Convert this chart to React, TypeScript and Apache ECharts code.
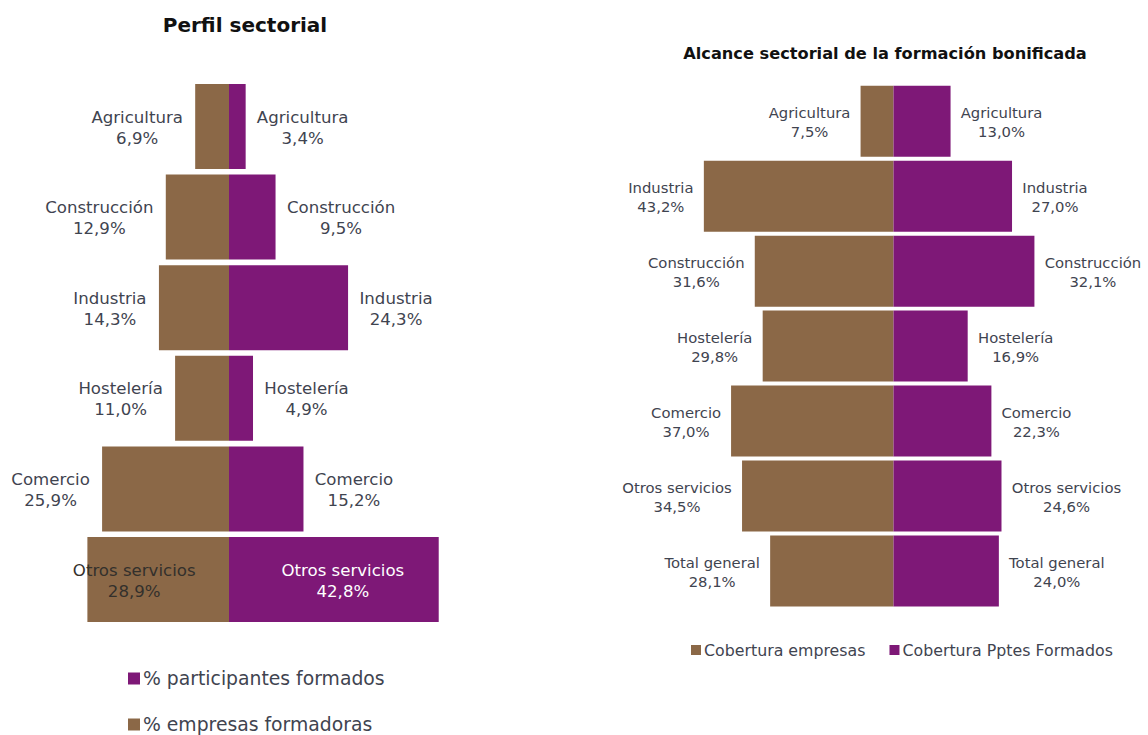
import React, { useEffect, useRef } from "react";
import * as echarts from "echarts";

const categoriesLeft = ["Agricultura", "Construcción", "Industria", "Hostelería", "Comercio", "Otros servicios"];
const empresasFormadoras = [6.9, 12.9, 14.3, 11.0, 25.9, 28.9];
const participantesFormados = [3.4, 9.5, 24.3, 4.9, 15.2, 42.8];

const categoriesRight = ["Agricultura", "Industria", "Construcción", "Hostelería", "Comercio", "Otros servicios", "Total general"];
const coberturaEmpresas = [7.5, 43.2, 31.6, 29.8, 37.0, 34.5, 28.1];
const coberturaPptes = [13.0, 27.0, 32.1, 16.9, 22.3, 24.6, 24.0];

const BROWN = "#8b6847";
const PURPLE = "#7e1877";
const LABEL = "#3f4450";
const FONT = "'DejaVu Sans', Verdana, sans-serif";

const fmt = (v: number) => v.toFixed(1).replace(".", ",") + "%";

let ctx: CanvasRenderingContext2D | null = null;
function measure(text: string, size: number) {
  if (!ctx) ctx = document.createElement("canvas").getContext("2d");
  if (!ctx) return text.length * size * 0.6;
  ctx.font = `${size}px "DejaVu Sans"`;
  return ctx.measureText(text).width;
}

function buildData(
  cats: string[],
  vals: number[],
  sign: number,
  size: number,
  lh: number,
  side: "left" | "right",
  dist: number,
  insideLast?: { offset: number; color: string }
) {
  return vals.map((v, i) => {
    const name = cats[i];
    const w = Math.ceil(Math.max(measure(name, size), measure(fmt(v), size))) + 2;
    const isInside = insideLast && i === vals.length - 1;
    return {
      value: sign * v,
      label: {
        show: true,
        position: isInside ? "inside" : side,
        distance: dist,
        offset: isInside ? [insideLast!.offset, 1] : [0, 1],
        formatter: `{a|${name}}\n{a|${fmt(v)}}`,
        rich: {
          a: {
            width: w,
            align: "center",
            fontSize: size,
            lineHeight: lh,
            fontFamily: FONT,
            color: isInside ? insideLast!.color : LABEL,
          },
        },
      },
    };
  });
}

export default function App() {
  const ref = useRef<HTMLDivElement>(null);
  useEffect(() => {
    document.body.style.margin = "0";
    if (!ref.current) return;
    const chart = echarts.init(ref.current, null, { renderer: "svg" });

    const L_MIN = -30, L_MAX = 45, L_PX = 4.9;
    const R_MIN = -45, R_MAX = 55, R_PX = 4.39;

    const legendLeftText = { fontFamily: FONT, fontSize: 18.8, color: LABEL, padding: [0, 0, 0, -2] };

    chart.setOption({
      animation: false,
      backgroundColor: "#ffffff",
      title: [
        {
          text: "Perfil sectorial",
          left: 240,
          top: 10,
          textAlign: "center",
          textStyle: { fontFamily: FONT, fontWeight: "bold", fontSize: 20, color: "#111111" },
        },
        {
          text: "Alcance sectorial de la formación bonificada",
          left: 880,
          top: 40,
          textAlign: "center",
          textStyle: { fontFamily: FONT, fontWeight: "bold", fontSize: 16.2, color: "#111111" },
        },
      ],
      legend: [
        {
          left: 123,
          top: 664,
          itemWidth: 12,
          itemHeight: 12,
          icon: "rect",
          data: ["% participantes formados"],
          textStyle: legendLeftText,
        },
        {
          left: 123,
          top: 710,
          itemWidth: 12,
          itemHeight: 12,
          icon: "rect",
          data: ["% empresas formadoras"],
          textStyle: legendLeftText,
        },
        {
          orient: "horizontal",
          left: 686,
          top: 637,
          itemWidth: 10,
          itemHeight: 10,
          itemGap: 24,
          icon: "rect",
          data: ["Cobertura empresas", "Cobertura Pptes Formados"],
          textStyle: { fontFamily: FONT, fontSize: 15.8, color: LABEL, padding: [0, 0, 0, -2] },
        },
      ],
      grid: [
        { left: 229 + L_MIN * L_PX, width: (L_MAX - L_MIN) * L_PX, top: 81.2, height: 543.6 },
        { left: 893.5 + R_MIN * R_PX, width: (R_MAX - R_MIN) * R_PX, top: 83.7, height: 524.8 },
      ],
      xAxis: [
        { type: "value", gridIndex: 0, min: L_MIN, max: L_MAX, show: false },
        { type: "value", gridIndex: 1, min: R_MIN, max: R_MAX, show: false },
      ],
      yAxis: [
        { type: "category", gridIndex: 0, data: categoriesLeft, inverse: true, show: false },
        { type: "category", gridIndex: 1, data: categoriesRight, inverse: true, show: false },
      ],
      series: [
        {
          name: "% empresas formadoras",
          type: "bar",
          xAxisIndex: 0,
          yAxisIndex: 0,
          barWidth: 85,
          barGap: "-100%",
          itemStyle: { color: BROWN },
          data: buildData(categoriesLeft, empresasFormadoras, -1, 16.6, 21, "left", 11, { offset: -24, color: "#33302c" }),
        },
        {
          name: "% participantes formados",
          type: "bar",
          xAxisIndex: 0,
          yAxisIndex: 0,
          barWidth: 85,
          barGap: "-100%",
          itemStyle: { color: PURPLE },
          data: buildData(categoriesLeft, participantesFormados, 1, 16.6, 21, "right", 10, { offset: 9, color: "#ffffff" }),
        },
        {
          name: "Cobertura empresas",
          type: "bar",
          xAxisIndex: 1,
          yAxisIndex: 1,
          barWidth: 71,
          barGap: "-100%",
          itemStyle: { color: BROWN },
          data: buildData(categoriesRight, coberturaEmpresas, -1, 14.8, 19, "left", 9),
        },
        {
          name: "Cobertura Pptes Formados",
          type: "bar",
          xAxisIndex: 1,
          yAxisIndex: 1,
          barWidth: 71,
          barGap: "-100%",
          itemStyle: { color: PURPLE },
          data: buildData(categoriesRight, coberturaPptes, 1, 14.8, 19, "right", 9),
        },
      ],
    });
    return () => chart.dispose();
  }, []);
  return <div ref={ref} style={{ width: 1148, height: 735 }} />;
}
